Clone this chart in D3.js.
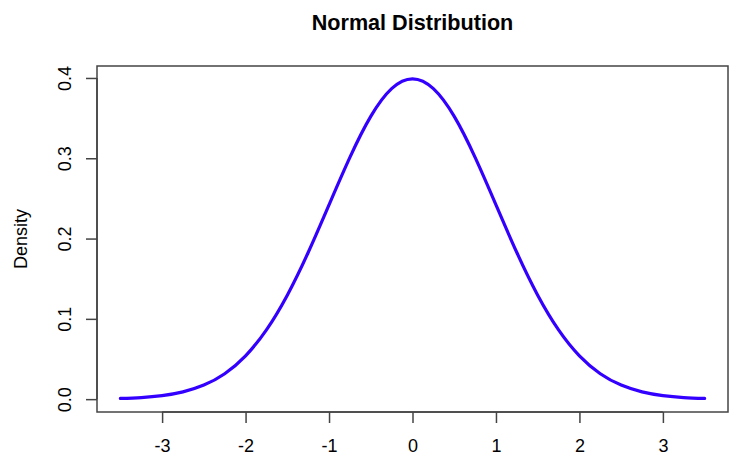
<!DOCTYPE html>
<html><head><meta charset="utf-8">
<script src="https://cdn.jsdelivr.net/npm/d3@7"></script>
<style>body{margin:0;background:#fff}svg{display:block;font-family:"Liberation Sans",Arial,sans-serif}</style>
</head><body><svg id="c" width="743" height="463"></svg>
<script>
const xValues = [-3.5,-3.25,-3,-2.75,-2.5,-2.25,-2,-1.75,-1.5,-1.25,-1,-0.75,-0.5,-0.25,0,0.25,0.5,0.75,1,1.25,1.5,1.75,2,2.25,2.5,2.75,3,3.25,3.5];
const densityValues = [0.0009,0.0020,0.0044,0.0091,0.0175,0.0317,0.0540,0.0863,0.1295,0.1826,0.2420,0.3011,0.3521,0.3867,0.3989,0.3867,0.3521,0.3011,0.2420,0.1826,0.1295,0.0863,0.0540,0.0317,0.0175,0.0091,0.0044,0.0020,0.0009];
const xTicks = [-3,-2,-1,0,1,2,3];
const yTicks = [0,0.1,0.2,0.3,0.4];
const titleText = "Normal Distribution";
const yLabel = "Density";

const svg = d3.select("#c");
const L=97, R=728, T=66, B=412;
const x = d3.scaleLinear().domain([-3.78,3.78]).range([L,R]);
const y = d3.scaleLinear().domain([-0.016,0.4149]).range([B,T]);
const axisColor = "#444", fs = 18;

svg.append("rect").attr("x",L).attr("y",T).attr("width",R-L).attr("height",B-T)
  .attr("fill","none").attr("stroke",axisColor).attr("stroke-width",1.5);

const xa = svg.append("g").attr("transform",`translate(0,${B})`)
  .call(d3.axisBottom(x).tickValues(xTicks).tickSize(11).tickFormat(d=>String(d).replace("\u2212","-")));
xa.select(".domain").attr("stroke",axisColor).attr("stroke-width",1.5).attr("d",`M${x(-3)},0H${x(3)}`);
xa.selectAll(".tick line").attr("stroke",axisColor).attr("stroke-width",1.5);
xa.selectAll(".tick text").attr("font-size",fs).attr("fill","#000")
  .attr("font-family","Liberation Sans, Arial, sans-serif").attr("dy",null).attr("y",40);

const ya = svg.append("g").attr("transform",`translate(${L},0)`)
  .call(d3.axisLeft(y).tickValues(yTicks).tickSize(11).tickFormat(d3.format(".1f")));
ya.select(".domain").attr("stroke",axisColor).attr("stroke-width",1.5).attr("d",`M0,${y(0)}V${y(0.4)}`);
ya.selectAll(".tick line").attr("stroke",axisColor).attr("stroke-width",1.5);
ya.selectAll(".tick text").attr("font-size",fs).attr("fill","#000")
  .attr("font-family","Liberation Sans, Arial, sans-serif")
  .attr("text-anchor","middle").attr("dy",null).attr("x",0).attr("y",0)
  .attr("transform",`translate(${71-L},0) rotate(-90)`);

svg.append("text").attr("x",(L+R)/2).attr("y",30).attr("text-anchor","middle")
  .attr("font-size",21.6).attr("font-weight","bold").text(titleText);
svg.append("text").attr("transform",`translate(27,${(T+B)/2}) rotate(-90)`).attr("text-anchor","middle")
  .attr("font-size",fs).text(yLabel);

const data = xValues.map((v,i)=>({x:v,y:densityValues[i]}));
svg.append("path").datum(data)
  .attr("fill","none").attr("stroke","#3300ff").attr("stroke-width",3.2)
  .attr("stroke-linecap","round").attr("stroke-linejoin","round")
  .attr("d",d3.line().x(d=>x(d.x)).y(d=>y(d.y)).curve(d3.curveNatural));
</script></body></html>
